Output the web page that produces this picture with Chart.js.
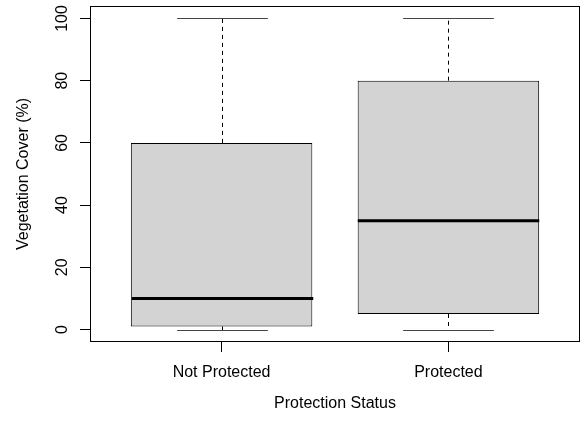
<!DOCTYPE html>
<html>
<head>
<meta charset="utf-8">
<script src="https://cdn.jsdelivr.net/npm/chart.js@4.4.0/dist/chart.umd.min.js"></script>
<style>
  html, body { margin: 0; padding: 0; background: #fff; }
  #wrap { width: 581px; height: 427px; }
</style>
</head>
<body>
<div id="wrap"><canvas id="c"></canvas></div>
<script>
// box plot summary values
const categories = ['Not Protected', 'Protected'];
const minVals    = [0, 0];
const q1Vals     = [1, 5];
const medianVals = [10, 35];
const q3Vals     = [60, 80];
const maxVals    = [100, 100];
const yTicks     = [0, 20, 40, 60, 80, 100];

const xTitle = 'Protection Status';
const yTitle = 'Vegetation Cover (%)';
const FONT = '"Liberation Sans", Arial, Helvetica, sans-serif';

const boxData = categories.map((c, i) => ({x: i + 1, y: [q1Vals[i], q3Vals[i]]}));

// whiskers, caps, medians, frame and the texts
const boxPlotExtras = {
  id: 'boxPlotExtras',
  afterDatasetsDraw(chart) {
    const ctx = chart.ctx;
    const xs = chart.scales.x, ys = chart.scales.y;
    const area = chart.chartArea;
    ctx.save();
    categories.forEach((c, i) => {
      const pos = i + 1;
      const cx = Math.round(xs.getPixelForValue(pos)) + 0.5;
      const hw = xs.getPixelForValue(pos + 0.4) - xs.getPixelForValue(pos);
      const yMin = Math.round(ys.getPixelForValue(minVals[i])) + 0.5;
      const yMax = Math.round(ys.getPixelForValue(maxVals[i])) + 0.5;
      const yQ1 = ys.getPixelForValue(q1Vals[i]);
      const yQ3 = ys.getPixelForValue(q3Vals[i]);
      const yMed = ys.getPixelForValue(medianVals[i]);

      ctx.strokeStyle = '#000';
      ctx.lineWidth = 1;
      ctx.setLineDash([4, 4]);
      ctx.beginPath();
      ctx.moveTo(cx, yQ3); ctx.lineTo(cx, yMax);
      ctx.moveTo(cx, yQ1); ctx.lineTo(cx, yMin);
      ctx.stroke();
      ctx.setLineDash([]);

      ctx.strokeStyle = '#444';
      ctx.beginPath();
      ctx.moveTo(cx - hw / 2, yMax); ctx.lineTo(cx + hw / 2, yMax);
      ctx.moveTo(cx - hw / 2, yMin); ctx.lineTo(cx + hw / 2, yMin);
      ctx.stroke();

      ctx.strokeStyle = '#000';
      ctx.lineWidth = 3;
      ctx.beginPath();
      ctx.moveTo(cx - hw, yMed); ctx.lineTo(cx + hw, yMed);
      ctx.stroke();
    });

    // plot frame
    ctx.lineWidth = 1;
    ctx.strokeStyle = '#000';
    ctx.strokeRect(Math.round(area.left) + 0.5, Math.round(area.top) + 0.5,
                   Math.round(area.right - area.left) - 1, Math.round(area.bottom - area.top) - 1);

    ctx.fillStyle = '#000';
    ctx.font = '16px ' + FONT;
    ctx.textAlign = 'center';
    ctx.textBaseline = 'alphabetic';

    // y tick labels, rotated
    yTicks.forEach(v => {
      const y = ys.getPixelForValue(v);
      ctx.save();
      ctx.translate(67, y);
      ctx.rotate(-Math.PI / 2);
      ctx.fillText(String(v), 0, 0);
      ctx.restore();
    });

    // x tick labels
    categories.forEach((c, i) => {
      ctx.fillText(c, xs.getPixelForValue(i + 1), 377);
    });

    // axis titles
    ctx.fillText(xTitle, (area.left + area.right) / 2, 408);
    ctx.save();
    ctx.translate(28, (area.top + area.bottom) / 2);
    ctx.rotate(-Math.PI / 2);
    ctx.fillText(yTitle, 0, 0);
    ctx.restore();
    ctx.restore();
  }
};

new Chart(document.getElementById('c'), {
  type: 'bar',
  data: {
    datasets: [{
      data: boxData,
      backgroundColor: '#d3d3d3',
      borderColor: '#000',
      borderWidth: 1,
      borderSkipped: false,
      categoryPercentage: 1,
      barPercentage: 0.8
    }]
  },
  options: {
    responsive: true,
    maintainAspectRatio: false,
    animation: false,
    layout: {padding: {top: 6, right: 1, left: 0, bottom: 0}},
    plugins: {legend: {display: false}, tooltip: {enabled: false}},
    scales: {
      x: {
        type: 'linear',
        min: 0.42,
        max: 2.58,
        offset: false,
        afterBuildTicks: s => { s.ticks = categories.map((c, i) => ({value: i + 1})); },
        afterFit: s => { s.height = 85; },
        ticks: {display: false},
        border: {display: false},
        grid: {display: true, offset: false, drawOnChartArea: false, drawTicks: true, tickLength: 10, color: '#000', lineWidth: 1}
      },
      y: {
        min: -4,
        max: 104,
        afterBuildTicks: s => { s.ticks = yTicks.map(v => ({value: v})); },
        afterFit: s => { s.width = 90; },
        ticks: {display: false},
        border: {display: false},
        grid: {display: true, drawOnChartArea: false, drawTicks: true, tickLength: 10, color: '#000', lineWidth: 1}
      }
    }
  },
  plugins: [boxPlotExtras]
});
</script>
</body>
</html>
